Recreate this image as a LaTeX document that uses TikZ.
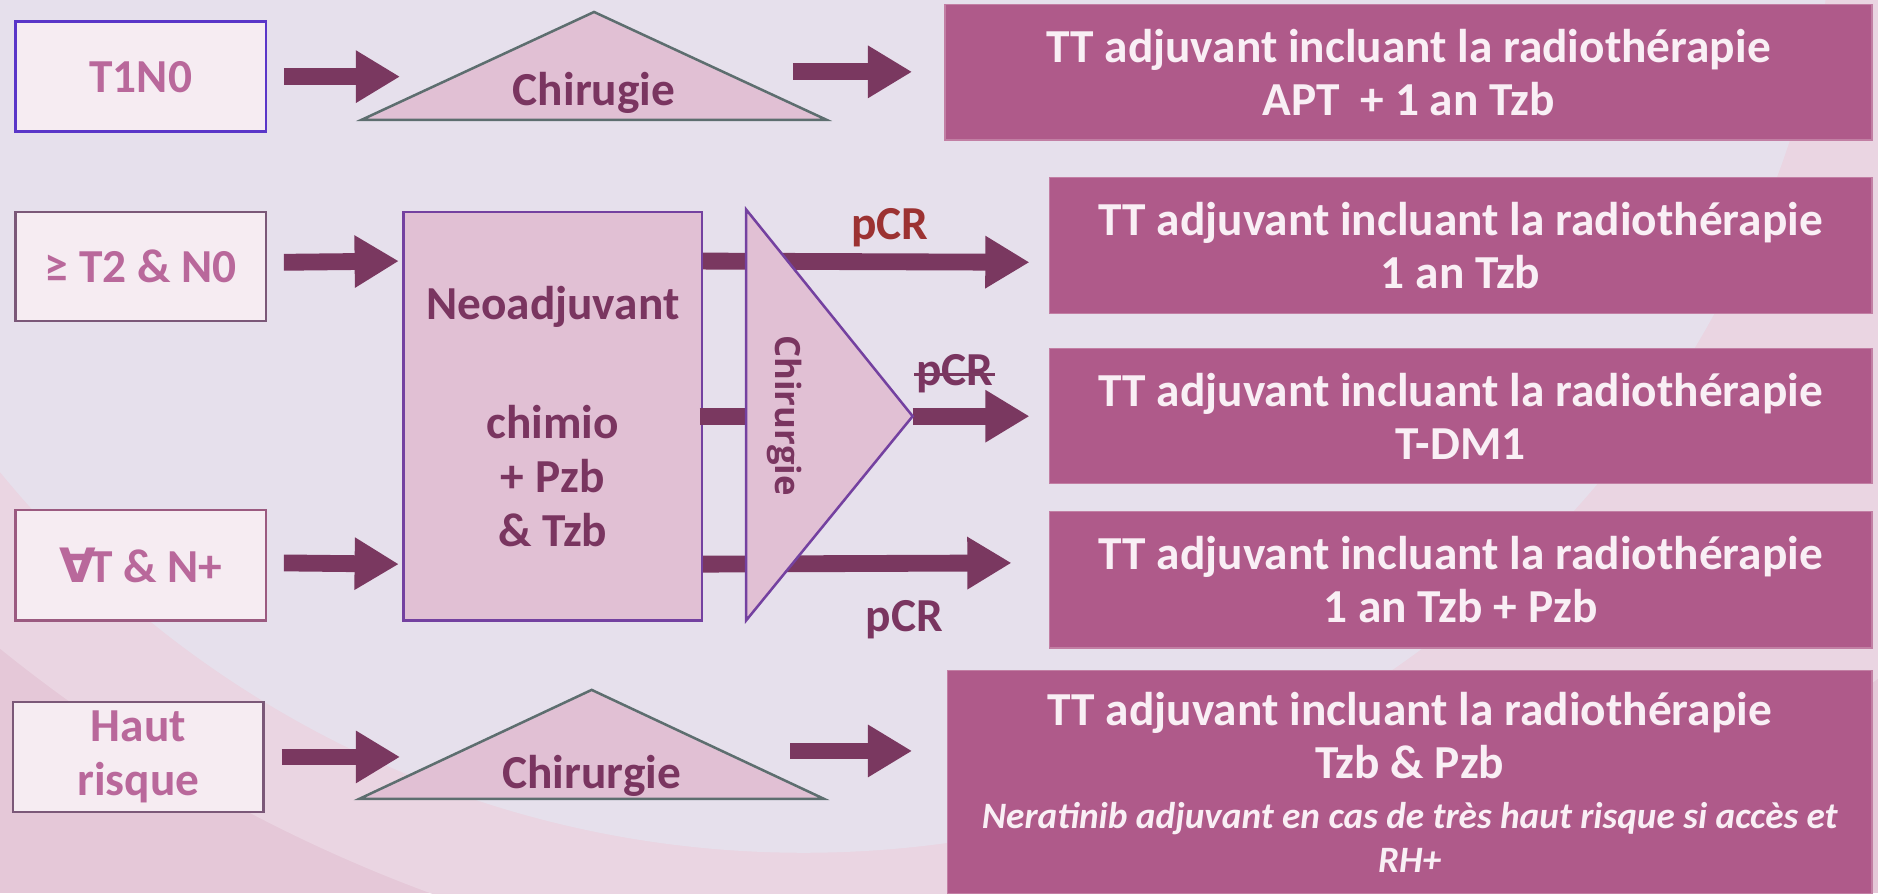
\documentclass[tikz,border=0pt]{standalone}
\usepackage{fontspec}
\setmainfont{Carlito}
\newfontfamily\djv{DejaVu Sans}
\newfontfamily\osans{Open Sans}
\usetikzlibrary{arrows.meta,calc}
\definecolor{bglav}{HTML}{E6E0EC}
\definecolor{bgpink}{HTML}{EAD5E2}
\definecolor{bgdark}{HTML}{E5C8D8}
\definecolor{arrc}{HTML}{7A3860}
\definecolor{rfill}{HTML}{AF5A8A}
\definecolor{rline}{HTML}{C27FA4}
\definecolor{rtext}{HTML}{F9EFF5}
\definecolor{lfill}{HTML}{F6ECF2}
\definecolor{ltext}{HTML}{B9689B}
\definecolor{trifill}{HTML}{E1C0D4}
\definecolor{tribd}{HTML}{5D6E6F}
\definecolor{neobd}{HTML}{7441A0}
\definecolor{dtext}{HTML}{7A3560}
\definecolor{pcrred}{HTML}{9C3232}
\definecolor{bdone}{HTML}{5A36C8}
\definecolor{bdtwo}{HTML}{7B5878}
\definecolor{bdthree}{HTML}{9B5A80}
\tikzset{
  fat/.style={draw=arrc, line width=8pt, -{Triangle[length=21pt,width=23.5pt]}},
  bar/.style={draw=arrc, line width=8pt},
  leftbox/.style={draw, line width=1.2pt, fill=lfill, text=ltext,
    font=\bfseries\fontsize{22.5}{25.5}\selectfont, align=center,
    minimum width=4.18cm, minimum height=1.84cm, inner sep=0pt},
  rightbox/.style={fill=rfill, draw=rline, line width=0.6pt, text=rtext,
    font=\bfseries\fontsize{22.5}{25.2}\selectfont, align=center, inner sep=0pt},
  trishape/.style={fill=trifill, draw=tribd, line width=1.2pt},
  dlabel/.style={text=dtext, font=\bfseries\fontsize{22.5}{25.5}\selectfont, inner sep=0pt}
}
\begin{document}
\begin{tikzpicture}[x=0.02cm,y=-0.02cm]
\useasboundingbox (0,0) rectangle (1568,746);
% background
\begin{scope}
\clip (0,0) rectangle (1568,746);
\fill[bgdark] (0,0) rectangle (1568,746);
\fill[bgpink] (800,-450) circle[radius=1274];
\fill[bglav] (671,-155) circle[radius=867];
\end{scope}

% left boxes
\node[leftbox, draw=bdone] (t1) at (117.5,64) {T1N0};
\node[leftbox, draw=bdtwo, minimum height=1.82cm] (t2) at (117.5,222.5) {≥ T2 \& N0};
\node[leftbox, draw=bdthree] (t3) at (117.5,472) {{\djv ∀}\kern-3ptT \& N+};
\node[leftbox, draw=bdtwo] (t4) at (115.5,632) {Haut\\risque};

% neoadjuvant box
\node[fill=trifill, draw=neobd, line width=1.2pt, minimum width=4.98cm, minimum height=6.82cm,
      text=dtext, font=\bfseries\fontsize{22.5}{25.5}\selectfont, align=center, inner sep=0pt]
      (neo) at (461.5,347.5) {Neoadjuvant\\[31.4pt]chimio\\+ Pzb\\\& Tzb};

% right boxes
\node[rightbox, minimum width=15.48cm, minimum height=2.26cm] (b1) at (1176,60.5)
  {TT adjuvant incluant la radiothérapie\\APT~ + 1 an Tzb};
\node[rightbox, minimum width=13.74cm, minimum height=2.28cm] (b2) at (1219.5,205)
  {TT adjuvant incluant la radiothérapie\\1 an Tzb};
\node[rightbox, minimum width=13.74cm, minimum height=2.26cm] (b3) at (1219.5,347.5)
  {TT adjuvant incluant la radiothérapie\\T-DM1};
\node[rightbox, minimum width=13.74cm, minimum height=2.28cm] (b4) at (1219.5,484)
  {TT adjuvant incluant la radiothérapie\\1 an Tzb + Pzb};
\node[rightbox, minimum width=15.44cm, minimum height=3.72cm] (b5) at (1177,653)
  {TT adjuvant incluant la radiothérapie\\Tzb \& Pzb\\[-1.1pt]
   {\bfseries\itshape\fontsize{17.7}{20}\selectfont Neratinib adjuvant en cas de très haut risque si accès et}\\[-4.6pt]
   {\bfseries\itshape\fontsize{17.7}{20}\selectfont RH+}};

% triangle anchor coordinates
\coordinate (c1in) at (334,64);
\coordinate (c1out) at (662,60);
\coordinate (c2in) at (334,632);
\coordinate (c2out) at (660,627);
\coordinate (v1T) at (623,175);
\coordinate (v1A) at (762,347.5);
\coordinate (v1B) at (623,518);

% arrows
\draw[fat] ($(t1.east)+(14,0)$) -- (c1in);
\draw[fat] (c1out) -- ($(b1.west)+(-27,-0.5)$);
\draw[fat] ($(t2.east)+(14,-3.5)$) -- ($(neo.north west)+(-3,42)$);
\draw[fat] ($(t3.east)+(14,-2)$) -- ($(neo.south west)+(-3,-48)$);
\draw[fat] ($(t4.east)+(14,0)$) -- (c2in);
\draw[fat] (c2out) -- ($(b5.west)+(-29,-26)$);
\draw[fat] ($(neo.north east)+(0,42)$) -- ($(b2.west)+(-16,14)$);
\draw[bar] ($(neo.east)+(-3,0)$) -- (v1T |- neo.east);
\draw[fat] (v1A) -- ($(b3.west)+(-16,0)$);
\draw[fat] ($(neo.south east)+(0,-48)$) -- ($(b4.west)+(-31,-14)$);

% vertical surgery triangle
\draw[trishape, draw=neobd] (v1T) -- (v1A) -- (v1B) -- cycle;
\node[text=dtext, font=\osans\bfseries\fontsize{16.5}{20}\selectfont, inner sep=0pt, rotate=-90]
  (vtxt) at (655,347) {Chirurgie};

% horizontal surgery triangles
\draw[trishape] (302,100) -- (496,10) -- (690,100) -- cycle;
\node[dlabel, anchor=base] (c1) at (496,88) {Chirugie};
\draw[trishape] (300,667) -- (494,576) -- (688,667) -- cycle;
\node[dlabel, anchor=base] (c2) at (494,658) {Chirurgie};

% pCR labels
\node[dlabel, text=pcrred, anchor=base] (p1) at (743,200) {pCR};
\node[dlabel, anchor=base] (p2) at (797,322) {pCR};
\draw[arrc, line width=1.4pt] ($(p2.base west)+(-1,-9)$) -- ($(p2.base east)+(1,-9)$);
\node[dlabel, anchor=base] (p3) at (755,527) {pCR};
\end{tikzpicture}
\end{document}
